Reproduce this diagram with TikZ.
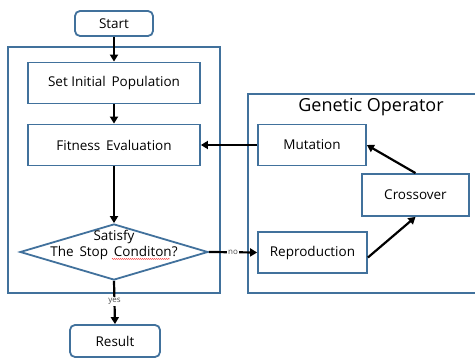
\documentclass[tikz,border=0pt]{standalone}
\usepackage{fontspec}
\setmainfont{Open Sans}
\usetikzlibrary{shapes.geometric,arrows.meta,decorations.pathmorphing}
\definecolor{bc}{HTML}{41719C}
\begin{document}
\begin{tikzpicture}[x=1pt,y=-1pt,
  frame/.style={draw=bc, line width=1.8pt, inner sep=0pt},
  box/.style={draw=bc, line width=1.8pt, fill=white, inner sep=0pt,
    minimum width=#1, minimum height=41pt, font=\fontsize{13.5}{16}\selectfont},
  term/.style={box=#1, rounded corners=5pt, minimum height=25pt},
  arr/.style={line width=2.2pt, -{Triangle[length=7pt,width=8pt]}},
  lbl/.style={fill=white, inner sep=1pt, text=black!70, font=\fontsize{8}{9}\selectfont}
]
\useasboundingbox (0,0) rectangle (475,358);
\fill[white] (0,0) rectangle (475,358);
% frames
\node[frame, minimum width=212pt, minimum height=246pt] (lf) at (114,170) {};
\node[frame, minimum width=229pt, minimum height=199pt] (gf) at (362.5,193.5) {};
\node[font=\fontsize{18}{20}\selectfont] (gt) at (371,107) {Genetic Operator};
% left column
\node[term=78pt] (start) at (114,23.5) {Start};
\node[box=172pt] (sip) at (114,83) {Set Initial\, Population};
\node[box=172pt] (fit) at (114,145) {Fitness\, Evaluation};
\node[diamond, draw=bc, line width=1.8pt, fill=white, aspect=3.36, inner sep=0pt,
  minimum width=188pt, minimum height=56pt] (dia) at (114,252) {};
\node[align=center, font=\fontsize{13.5}{16}\selectfont, inner sep=0pt] (diat) at (114,245) {Satisfy\\The\, Stop\, Conditon?};
\node[term=90pt, minimum height=32pt] (res) at (115,341) {Result};
% genetic operator
\node[box=108pt] (mut) at (312,145) {Mutation};
\node[box=107pt, minimum height=42pt] (cro) at (415.5,195) {Crossover};
\node[box=109pt] (rep) at (312.5,252.5) {Reproduction};
% connectors
\draw[arr] (start) -- (sip);
\draw[arr] (sip) -- (fit);
\draw[arr] (fit) -- (dia);
\draw[arr] (mut) -- (fit);
\draw[arr] (dia.east) -- node[lbl] (no) {no} (rep.west);
\draw[arr] (dia.south) -- node[lbl, pos=0.48] (yes) {yes} (res.north);
\draw[arr] (cro.north) -- (mut.east);
\draw[arr] ([yshift=-5pt]rep.east) -- (cro.south);
% spell-check underline
\draw[red!80, line width=0.4pt, decorate, decoration={snake, amplitude=0.6pt, segment length=2pt}]
  ([xshift=-2pt,yshift=1pt]diat.south) -- ([xshift=56pt,yshift=1pt]diat.south);
\end{tikzpicture}
\end{document}
